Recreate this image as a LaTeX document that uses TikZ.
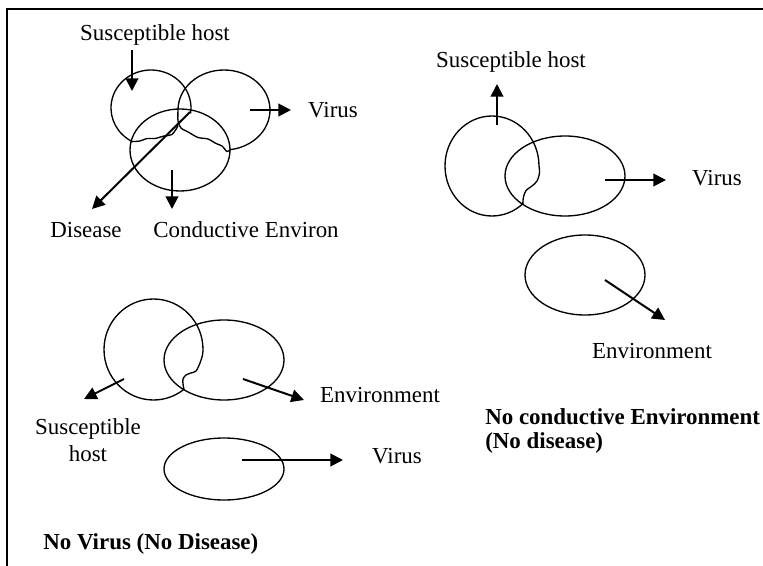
\documentclass[tikz,border=0pt]{standalone}
\usepackage{fontspec}
\setmainfont{Liberation Serif}
\usetikzlibrary{arrows.meta}

\begin{document}
\begin{tikzpicture}[x=0.75pt,y=-0.75pt,>={Triangle[length=9.5pt,width=9.5pt]},
    ring/.style={line width=1pt},
    pointer/.style={->,line width=1.5pt},
    lbl/.style={font=\fontsize{17.2}{19.5}\selectfont,inner sep=0pt,align=center},
    note/.style={font=\fontsize{17.2}{17.3}\selectfont\bfseries,inner sep=0pt,align=left,anchor=west}]
  \useasboundingbox (0,0) rectangle (763,566);
  \draw[line width=1.3pt] (7,566) -- (7,9) -- (763,9);

  % all three together
  \draw[ring] (180,150) ellipse [x radius=50,y radius=41];
  \draw[ring] (190.6,113.3) arc[start angle=8,end angle=-242,x radius=40,y radius=38]
    -- plot[smooth] coordinates {(132.2,141.6) (140,141) (147,138.5) (155,138.5) (164,136) (172,134.5) (178,126)};
  \draw[ring] (178,110) arc[start angle=180,end angle=442,x radius=46,y radius=40]
    -- plot[smooth] coordinates {(230.4,149.6) (227,151.5) (222,146) (216,143.5) (208,139) (198,137.5) (189,132.5) (181,128) (178,121) (178,110)};
  \node[lbl] (hostA) at (155,35) {Susceptible host};
  \node[lbl] (virA) at (333,110) {Virus};
  \node[lbl] (disA) at (86,230) {Disease};
  \node[lbl] (envA) at (246,230) {Conductive Environ};
  \coordinate (hA1) at (132,50);  \coordinate (hA2) at (132,91);
  \coordinate (vA1) at (250,110); \coordinate (vA2) at (291,110);
  \coordinate (dA1) at (190,112); \coordinate (dA2) at (92,209);
  \coordinate (eA1) at (172,170); \coordinate (eA2) at (172,209);
  \draw[pointer] (hA1) -- (hA2);
  \draw[pointer] (vA1) -- (vA2);
  \draw[pointer] (dA1) -- (dA2);
  \draw[pointer] (eA1) -- (eA2);

  % environment apart
  \draw[ring] (539,166) arc[start angle=0,end angle=-311,x radius=47,y radius=50]
    -- plot[smooth] coordinates {(522.8,203.7) (523.5,197) (526,190.5) (532,186) (537,181) (539.5,173) (539,166)};
  \draw[ring] (565,176) ellipse [x radius=60,y radius=40];
  \draw[ring] (585,275) ellipse [x radius=60,y radius=40];
  \node[lbl] (hostB) at (511,62) {Susceptible host};
  \node[lbl] (virB) at (717,178) {Virus};
  \node[lbl] (envB) at (652,351) {Environment};
  \node[note] (noteB) at (485,431) {No conductive Environment\\(No disease)};
  \coordinate (hB1) at (497,125); \coordinate (hB2) at (497,84);
  \coordinate (vB1) at (605,180); \coordinate (vB2) at (666,180);
  \coordinate (eB1) at (605,280); \coordinate (eB2) at (665,320);
  \draw[pointer] (hB1) -- (hB2);
  \draw[pointer] (vB1) -- (vB2);
  \draw[pointer] (eB1) -- (eB2);

  % virus apart
  \draw[ring] (203,349.5) arc[start angle=0,end angle=-308,x radius=49.5,y radius=50.5]
    -- plot[smooth] coordinates {(184,389.3) (183,384) (183,379) (186,375) (191,373) (196,371) (200,363) (202.5,355) (203,349.5)};
  \draw[ring] (224,360) ellipse [x radius=60,y radius=40];
  \draw[ring] (224,469) ellipse [x radius=60,y radius=31];
  \node[lbl] (hostC) at (88,440) {Susceptible\\[0.3pt]host};
  \node[lbl] (envC) at (380,395) {Environment};
  \node[lbl] (virC) at (397,456) {Virus};
  \node[note] (noteC) at (43,544) {No Virus (No Disease)};
  \coordinate (hC1) at (124,379); \coordinate (hC2) at (84,399);
  \coordinate (eC1) at (243,379); \coordinate (eC2) at (304,400);
  \coordinate (vC1) at (242,460); \coordinate (vC2) at (343,460);
  \draw[pointer] (hC1) -- (hC2);
  \draw[pointer] (eC1) -- (eC2);
  \draw[pointer] (vC1) -- (vC2);
\end{tikzpicture}
\end{document}
